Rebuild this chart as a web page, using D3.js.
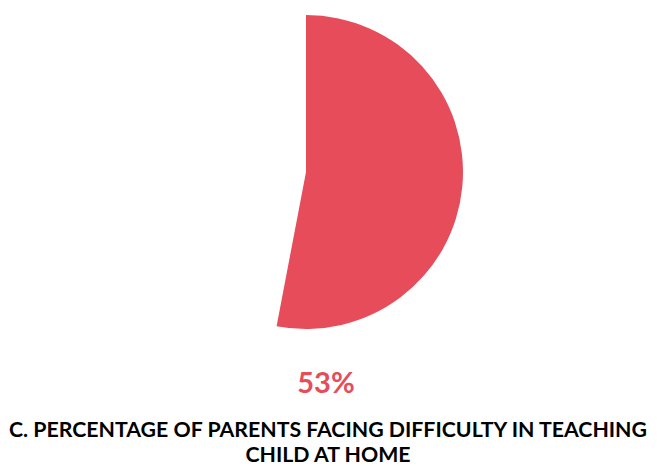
<!DOCTYPE html>
<html>
<head>
<meta charset="utf-8">
<script src="https://cdn.jsdelivr.net/npm/d3@7"></script>
<style>
  body { margin: 0; background: #fff; }
  svg { display: block; font-family: Lato, sans-serif; }
</style>
</head>
<body>
<div id="chart"></div>
<script>
// data
var labels = ["Facing difficulty", "Not facing difficulty"];
var values = [53, 47];
var titleLines = ["C. PERCENTAGE OF PARENTS FACING DIFFICULTY IN TEACHING", "CHILD AT HOME"];

var width = 657, height = 466;
var cx = 306, cy = 172, radius = 157;
var red = "#e64c5a";

var svg = d3.select("#chart").append("svg")
    .attr("width", width)
    .attr("height", height);

var pie = d3.pie().sort(null).value(d => d);
var arc = d3.arc().innerRadius(0).outerRadius(radius);

var g = svg.append("g").attr("transform", "translate(" + cx + "," + cy + ")");

// only the first slice is coloured, the rest is left blank
g.selectAll("path")
    .data(pie(values))
    .enter().append("path")
    .attr("d", arc)
    .attr("fill", (d, i) => i === 0 ? red : "none");

svg.append("text")
    .attr("x", 326)
    .attr("y", 393)
    .attr("text-anchor", "middle")
    .attr("fill", red)
    .style("font-size", "29px")
    .style("font-weight", "bold")
    .text(values[0] + "%");

svg.selectAll(".title")
    .data(titleLines)
    .enter().append("text")
    .attr("class", "title")
    .attr("x", 328)
    .attr("y", (d, i) => 437 + i * 25)
    .attr("text-anchor", "middle")
    .attr("fill", "#000")
    .style("font-size", "21.3px")
    .style("font-weight", "bold")
    .text(d => d);
</script>
</body>
</html>
